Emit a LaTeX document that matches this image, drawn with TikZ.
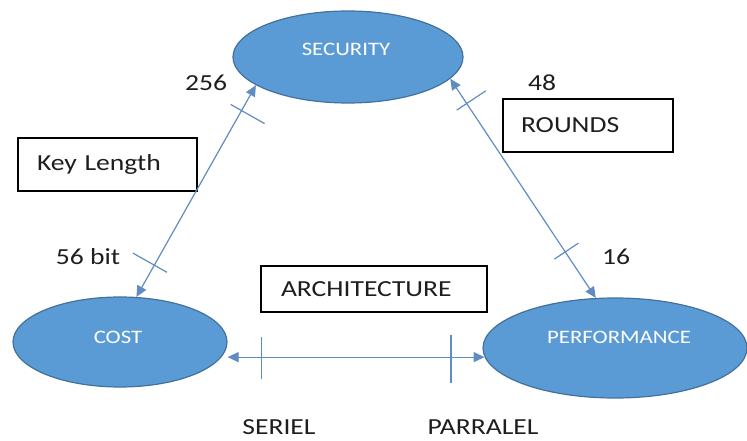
\documentclass[tikz,border=0pt]{standalone}
\usepackage{fontspec}
\setmainfont{Carlito}[FakeStretch=1.2]
\usetikzlibrary{arrows.meta,shapes.geometric,decorations.markings}
\definecolor{ellfill}{RGB}{91,155,213}
\definecolor{elldraw}{RGB}{65,113,156}
\definecolor{arrowc}{RGB}{96,140,192}
\definecolor{txt}{RGB}{30,30,30}
\begin{document}
\begin{tikzpicture}[x=1pt,y=-1pt,
  oval/.style={ellipse, fill=ellfill, draw=elldraw, line width=1.2pt, inner sep=0pt},
  ovaltext/.style={text=white, font=\fontsize{19}{22}\selectfont, inner sep=0pt},
  lab/.style={font=\fontsize{23}{27}\selectfont, inner sep=0pt, text=txt},
  boxed/.style={draw=black, line width=1.3pt, font=\fontsize{23}{27}\selectfont, align=left, inner ysep=0pt, text=txt},
  link/.style={draw=arrowc, line width=1.2pt, {Triangle[length=11pt,width=10pt]}-{Triangle[length=11pt,width=10pt]}},
  tickmark/.style={draw=arrowc, line width=1.2pt, arrows=-}
]
\useasboundingbox (0,0) rectangle (747,441);

% ellipses
\node[oval, minimum width=230pt, minimum height=92pt] (security) at (348,57) {};
\node[ovaltext] (securityt) at (346,49) {SECURITY};
\node[oval, minimum width=214pt, minimum height=90pt] (cost) at (120,342) {};
\node[ovaltext] (costt) at (118,337) {COST};
\node[oval, minimum width=264pt, minimum height=100pt] (perf) at (615,348) {};
\node[ovaltext] (perft) at (619,337) {PERFORMANCE};

% boxes
\node[boxed, minimum width=179pt, minimum height=53pt, inner xsep=19pt, text width=141pt] (keylen) at (107.5,164.5) {Key Length};
\node[boxed, minimum width=170pt, minimum height=53pt, inner xsep=18pt, text width=134pt] (rounds) at (588,125.5) {ROUNDS};
\node[boxed, minimum width=226pt, minimum height=46pt, inner xsep=20pt, text width=186pt] (arch) at (374,289) {ARCHITECTURE};

% labels
\node[lab] (l256) at (206,83) {256};
\node[lab] (l48) at (542,83) {48};
\node[lab] (l56) at (88,257) {56 bit};
\node[lab] (l16) at (616,257) {16};
\node[lab] (lser) at (279,427) {SERIEL};
\node[lab] (lpar) at (483,427) {PARRALEL};

% connectors
\draw[link, postaction={decorate}, decoration={markings,
    mark=at position 0.15 with {\draw[tickmark] (0pt,-14.5pt) -- (0pt,24.5pt);},
    mark=at position 0.88 with {\draw[tickmark] (0pt,-26.5pt) -- (0pt,12.5pt);}}]
  (cost.70) -- (security.197);

\draw[link, postaction={decorate}, decoration={markings,
    mark=at position 0.113 with {\draw[tickmark] (0pt,-12pt) -- (0pt,23pt);},
    mark=at position 0.79 with {\draw[tickmark] (0pt,-13pt) -- (0pt,16pt);}}]
  (security.-12) -- (perf.111);

\draw[link, postaction={decorate}, decoration={markings,
    mark=at position 0.131 with {\draw[tickmark] (0pt,-22pt) -- (0pt,20pt);},
    mark=at position 0.869 with {\draw[tickmark] (0pt,-26pt) -- (0pt,22pt);}}]
  (perf.184 -| cost.east) -- (perf.184);
\end{tikzpicture}
\end{document}
